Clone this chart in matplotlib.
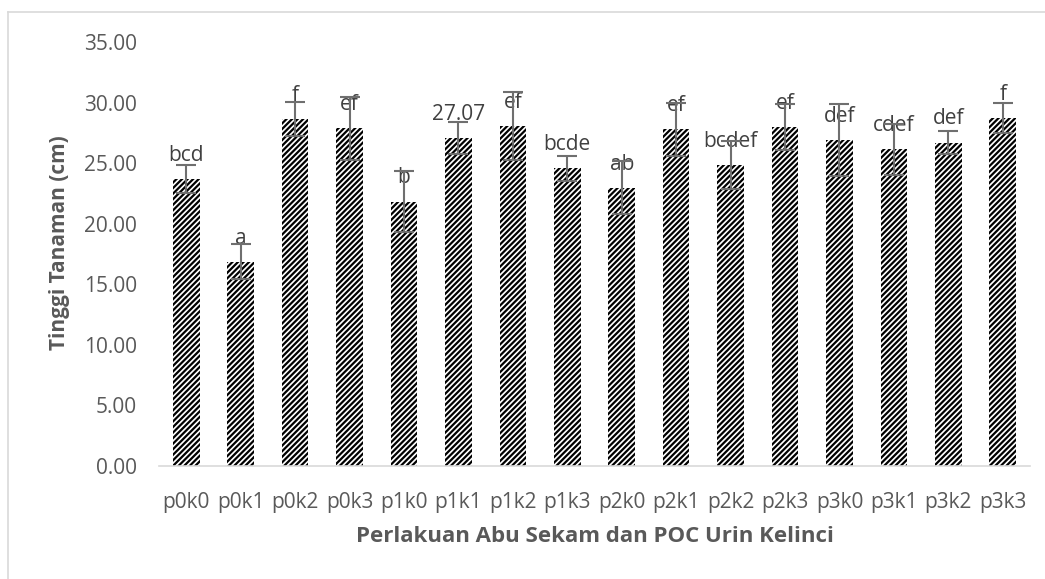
import matplotlib
matplotlib.use("Agg")
import matplotlib.pyplot as plt
from matplotlib.lines import Line2D

categories = ["p0k0", "p0k1", "p0k2", "p0k3", "p1k0", "p1k1", "p1k2", "p1k3",
              "p2k0", "p2k1", "p2k2", "p2k3", "p3k0", "p3k1", "p3k2", "p3k3"]
values = [23.70, 16.87, 28.65, 27.88, 21.83, 27.07, 28.07, 24.58,
          22.98, 27.80, 24.85, 28.02, 26.92, 26.15, 26.70, 28.70]
errors = [1.15, 1.45, 1.40, 2.60, 2.55, 1.30, 2.80, 1.05,
          2.20, 2.20, 2.00, 1.90, 3.00, 2.10, 0.95, 1.25]
labels = ["bcd", "a", "f", "ef", "b", "27.07", "ef", "bcde",
          "ab", "ef", "bcdef", "ef", "def", "cdef", "def", "f"]
yticks = [0, 5, 10, 15, 20, 25, 30, 35]

plt.rcParams['font.family'] = ['Open Sans', 'DejaVu Sans']
plt.rcParams['hatch.linewidth'] = 1.6
plt.rcParams['hatch.color'] = 'black'

W, H = 1045, 579
fig = plt.figure(figsize=(W / 100, H / 100), dpi=100)
ax = fig.add_axes([159 / W, 1 - 466 / H, (1030 - 159) / W, (466 - 42) / H])

x = list(range(len(categories)))
ax.bar(x, values, width=0.49, color='white', edgecolor='black', hatch='//////',
       linewidth=0, zorder=2, antialiased=False)
ax.errorbar(x, values, yerr=errors, fmt='none', ecolor='#6f6f6f', elinewidth=1.5,
            capsize=7, capthick=1.5, zorder=5)

for xi, v, lab in zip(x, values, labels):
    ax.annotate(lab, (xi, v), xytext=(0, 13), textcoords='offset points',
                ha='center', va='baseline', fontsize=15, color='#404040', zorder=4)

ax.set_xlim(-0.5, len(categories) - 0.5)
ax.set_ylim(0, 35)
ax.set_yticks(yticks)
ax.set_yticklabels([f"{t:.2f}" for t in yticks])
ax.set_xticks(x)
ax.set_xticklabels(categories)
ax.tick_params(axis='both', length=0, labelsize=15, labelcolor='#595959')
ax.tick_params(axis='y', pad=16)
ax.tick_params(axis='x', pad=19)
for s in ['top', 'right', 'left']:
    ax.spines[s].set_visible(False)
ax.spines['bottom'].set_color('#d9d9d9')
ax.spines['bottom'].set_linewidth(1.2)

fig.text(595 / W, 1 - 536 / H, "Perlakuan Abu Sekam dan POC Urin Kelinci",
         ha='center', va='center', fontsize=16, fontweight='bold', color='#595959')
fig.text(60 / W, 1 - 243 / H, "Tinggi Tanaman (cm)", rotation=90,
         ha='center', va='center', fontsize=15, fontweight='bold', color='#595959')

fig.add_artist(Line2D([8 / W, 8 / W], [0, 1 - 12 / H], transform=fig.transFigure,
                      color='#d9d9d9', linewidth=1.2))
fig.add_artist(Line2D([8 / W, 1], [1 - 12 / H, 1 - 12 / H], transform=fig.transFigure,
                      color='#d9d9d9', linewidth=1.2))

fig.savefig("out.png", dpi=100)
